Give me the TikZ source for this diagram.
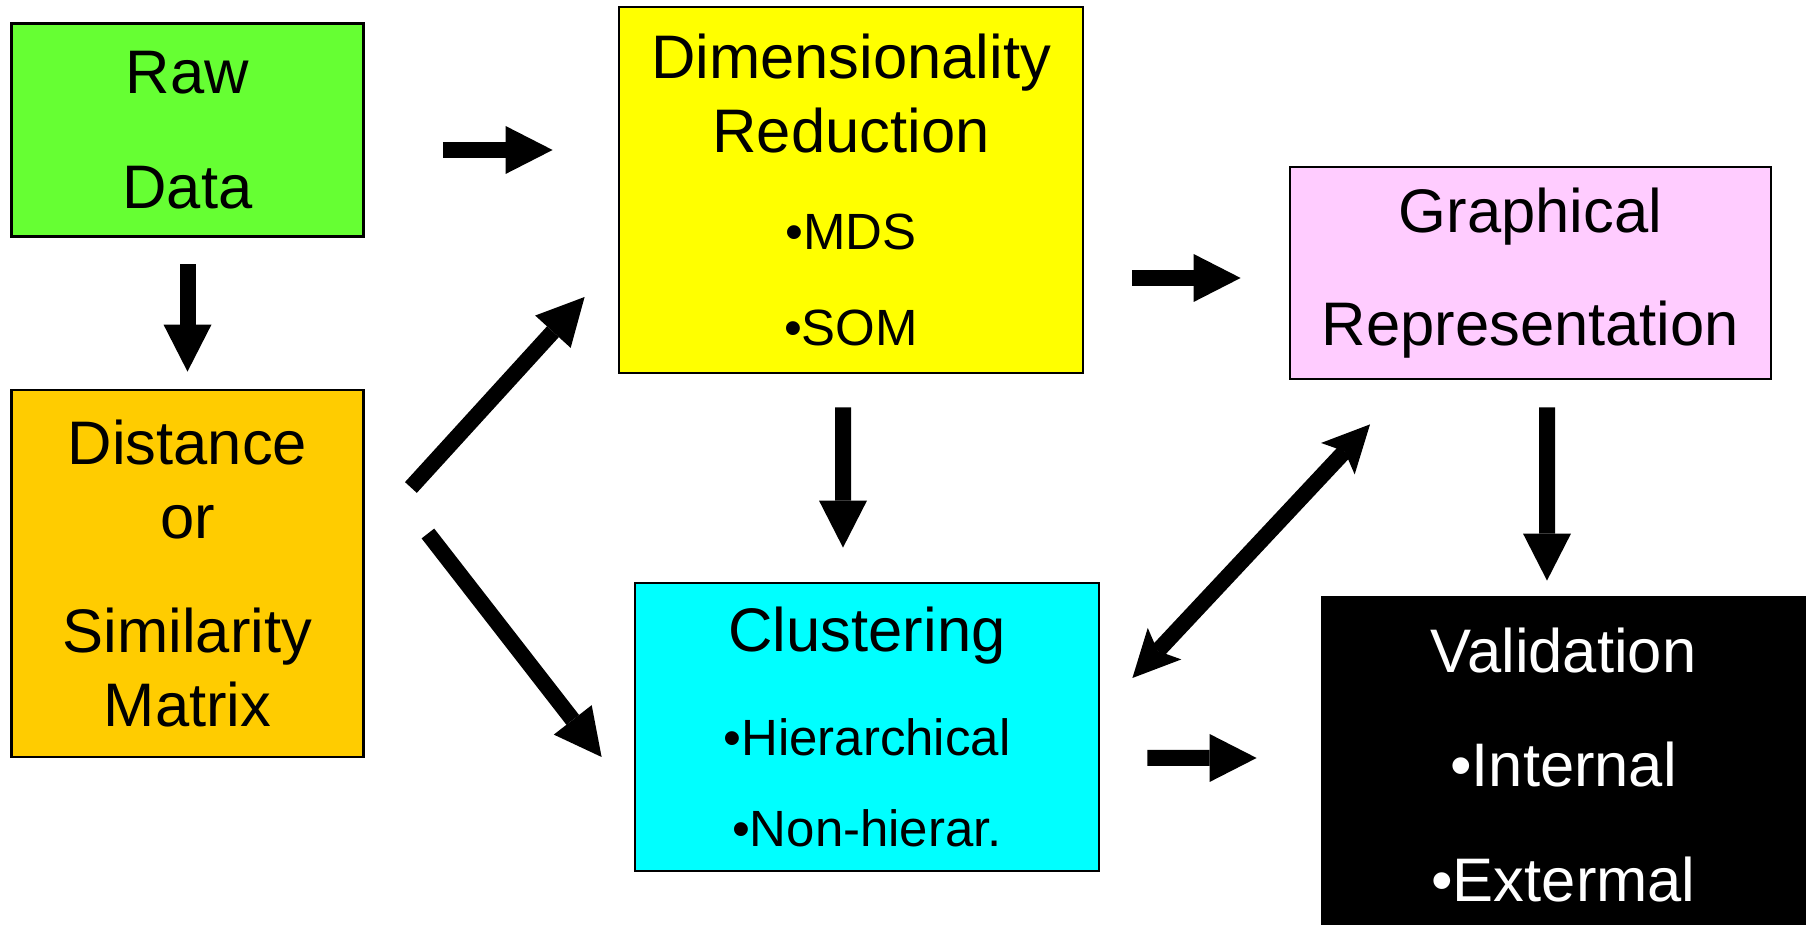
\documentclass[tikz,border=0pt]{standalone}
\usepackage{fontspec}
\setmainfont{Liberation Sans}
\usepackage{xcolor}
\usetikzlibrary{arrows.meta, positioning}

\definecolor{rawgreen}{HTML}{66FF33}
\definecolor{distorange}{HTML}{FFCC00}
\definecolor{dimyellow}{HTML}{FFFF00}
\definecolor{graphpink}{HTML}{FFCCFF}
\definecolor{clustcyan}{HTML}{00FFFF}

\newcommand{\bulletline}[1]{{\fontsize{14.5}{21}\selectfont #1}}

\begin{document}
\begin{tikzpicture}[
    box/.style={rectangle, draw=black, line width=0.8pt, align=center, inner sep=0pt,
        font=\fontsize{17.5}{21}\selectfont},
    flow/.style={-{Triangle[width=4.8mm,length=4.7mm,line width=0pt]}, line width=1.6mm},
    twoway/.style={{Stealth[width=4.6mm,length=4.7mm,inset=1mm,line width=0pt]}-{Stealth[width=4.6mm,length=4.7mm,inset=1mm,line width=0pt]}, line width=1.6mm}
]
\clip (0,0) rectangle (18.1,-9.25);

% Nodes
\node[box, fill=rawgreen, minimum width=3.52cm, minimum height=2.135cm] (raw) at (1.875,-1.30) {Raw\\[11.7pt]Data};
\node[box, fill=distorange, minimum width=3.52cm, minimum height=3.67cm] (dist) at (1.875,-5.735)
    {Distance\\or\\[11.4pt]Similarity\\Matrix};
\node[box, fill=dimyellow, minimum width=4.64cm, minimum height=3.66cm] (dim) at (8.51,-1.90)
    {Dimensionality\\Reduction\\[6.8pt]\bulletline{•MDS}\\[6.3pt]\bulletline{•SOM}};
\node[box, fill=graphpink, minimum width=4.81cm, minimum height=2.12cm] (graph) at (15.305,-2.73)
    {Graphical\\[11.1pt]Representation};
\node[box, fill=clustcyan, minimum width=4.64cm, minimum height=2.88cm] (clus) at (8.67,-7.27)
    {Clustering\\[8.5pt]\bulletline{•Hierarchical}\\[5.1pt]\bulletline{•Non-hierar.}};
\node[box, fill=black, text=white, minimum width=4.83cm, minimum height=3.36cm] (valid) at (15.635,-7.65)
    {Validation\\[11.7pt]•Internal\\[11.7pt]•Extermal};

% Arrows
\draw[flow] ([shift={(0.78,-0.20)}]raw.east) -- ([shift={(-0.65,0.40)}]dim.west);
\draw[flow] ([shift={(0,-0.26)}]raw.south) -- ([shift={(0,0.17)}]dist.north);
\draw[flow] ([shift={(0.46,0.86)}]dist.east) -- ([shift={(-0.33,-1.07)}]dim.west);
\draw[flow] ([shift={(0.63,0.40)}]dist.east) -- ([shift={(-0.32,-0.30)}]clus.west);
\draw[flow] ([shift={(0.48,-0.88)}]dim.east) -- ([shift={(-0.48,-0.05)}]graph.west);
\draw[flow] ([shift={(-0.08,-0.33)}]dim.south) -- ([shift={(-0.24,0.34)}]clus.north);
\draw[flow] ([shift={(0.165,-0.27)}]graph.south) -- ([shift={(-0.165,0.15)}]valid.north);
\draw[flow] ([shift={(0.47,-0.31)}]clus.east) -- ([shift={(-0.64,0.07)}]valid.west);
\draw[twoway] ([shift={(0.32,0.49)}]clus.east) -- ([shift={(-1.605,-0.44)}]graph.south);

\end{tikzpicture}
\end{document}
